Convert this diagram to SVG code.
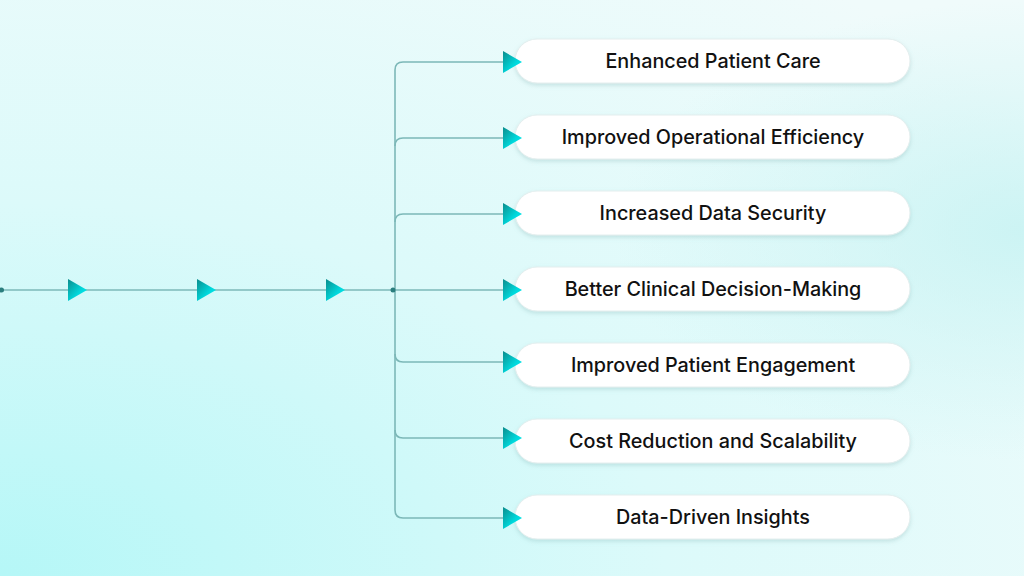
<svg xmlns="http://www.w3.org/2000/svg" width="1024" height="576" viewBox="0 0 1024 576">
<defs>
<radialGradient id="bg" cx="0" cy="1" r="1.3"><stop offset="0" stop-color="#b5f7f7"/><stop offset="0.5" stop-color="#dcfafa"/><stop offset="1" stop-color="#f0fbfb"/></radialGradient>
<radialGradient id="bg2" cx="1" cy="0.4" r="0.4"><stop offset="0" stop-color="#c4f2f2" stop-opacity="0.8"/><stop offset="1" stop-color="#c4f2f2" stop-opacity="0"/></radialGradient>
<linearGradient id="ar" x1="0" y1="0" x2="1" y2="1"><stop offset="0" stop-color="#0a8c8c"/><stop offset="0.6" stop-color="#00d8dc"/><stop offset="1" stop-color="#00f0f0"/></linearGradient>
<filter id="sh" x="-10%" y="-30%" width="120%" height="170%"><feDropShadow dx="0" dy="2" stdDeviation="2" flood-color="#7aa" flood-opacity="0.3"/></filter>
<style>
.ln{fill:none;stroke:#7cb8b8;stroke-width:1.6}
.box{fill:#fff;stroke:#e3eeee;stroke-width:1;filter:url(#sh)}
.t{font-family:Inter,"Liberation Sans",sans-serif;font-size:19.8px;font-weight:500;fill:#111;text-anchor:middle}
.a{fill:url(#ar)}
</style>
</defs>
<rect width="1024" height="576" fill="url(#bg)"/>
<rect width="1024" height="576" fill="url(#bg2)"/>
<g id="connectors">
<path class="ln" d="M0,290 H395"/>
<path class="ln" d="M395,70 V510"/>
<path class="ln" d="M395,70 Q395,62 403,62 H505"/>
<path class="ln" d="M395,146 Q395,138 403,138 H505"/>
<path class="ln" d="M395,222 Q395,214 403,214 H505"/>
<path class="ln" d="M395,290 H505"/>
<path class="ln" d="M395,354 Q395,362 403,362 H505"/>
<path class="ln" d="M395,430 Q395,438 403,438 H505"/>
<path class="ln" d="M395,510 Q395,518 403,518 H505"/>
<circle cx="1.5" cy="290" r="2.5" fill="#2b7e7e"/>
<circle cx="393" cy="290" r="2.5" fill="#2b7e7e"/>
<path class="a" d="M68,279 L87,290 L68,301Z"/>
<path class="a" d="M197,279 L216,290 L197,301Z"/>
<path class="a" d="M326,279 L345,290 L326,301Z"/>
</g>
<g id="n1"><rect class="box" x="515" y="39" width="395" height="44" rx="22"/><text class="t" x="713" y="68">Enhanced Patient Care</text></g>
<g id="n2"><rect class="box" x="515" y="115" width="395" height="44" rx="22"/><text class="t" x="713" y="144">Improved Operational Efficiency</text></g>
<g id="n3"><rect class="box" x="515" y="191" width="395" height="44" rx="22"/><text class="t" x="713" y="220">Increased Data Security</text></g>
<g id="n4"><rect class="box" x="515" y="267" width="395" height="44" rx="22"/><text class="t" x="713" y="296">Better Clinical Decision-Making</text></g>
<g id="n5"><rect class="box" x="515" y="343" width="395" height="44" rx="22"/><text class="t" x="713" y="372">Improved Patient Engagement</text></g>
<g id="n6"><rect class="box" x="515" y="419" width="395" height="44" rx="22"/><text class="t" x="713" y="448">Cost Reduction and Scalability</text></g>
<g id="n7"><rect class="box" x="515" y="495" width="395" height="44" rx="22"/><text class="t" x="713" y="524">Data-Driven Insights</text></g>
<g id="arrowheads">
<path class="a" d="M503,51 L522,62 L503,73Z"/>
<path class="a" d="M503,127 L522,138 L503,149Z"/>
<path class="a" d="M503,203 L522,214 L503,225Z"/>
<path class="a" d="M503,279 L522,290 L503,301Z"/>
<path class="a" d="M503,351 L522,362 L503,373Z"/>
<path class="a" d="M503,427 L522,438 L503,449Z"/>
<path class="a" d="M503,507 L522,518 L503,529Z"/>
</g>
</svg>
